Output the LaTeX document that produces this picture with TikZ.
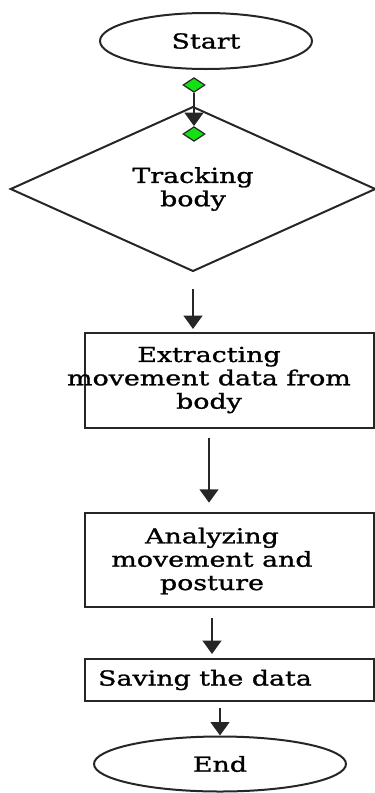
\documentclass[tikz,border=0pt]{standalone}
\usepackage{fontspec}
\setmainfont[FakeStretch=1.3,FakeBold=1.2]{DejaVu Serif}
\usetikzlibrary{shapes.geometric,arrows.meta}

\definecolor{dotgreen}{RGB}{20,225,20}
\tikzset{every node/.style={draw=black!85, line width=1.5pt, inner sep=0pt, align=center, font=\fontsize{15.5}{17.5}\selectfont}}

\begin{document}
\begin{tikzpicture}[x=0.75pt, y=-0.75pt, arr/.style={draw=black!85, line width=1.6pt, -{Triangle[width=14pt,length=10pt]}}, dot/.style={diamond, fill=dotgreen, line width=0.9pt, minimum width=16.5pt, minimum height=11pt}]
		\useasboundingbox (0,0) rectangle (375,793);
		
		\node[ellipse, minimum width=159pt, minimum height=42pt] (start) at (206,41) {Start};
		\node[dot] (dotA) at (194,85) {};
		\node[diamond, minimum width=274pt, minimum height=118.5pt] (track) at (193,189) {Tracking\\body};
		\node[dot] (dotB) at (194,134) {};
		\draw[arr] (dotA) -- (dotB);
		
		\node[rectangle, minimum width=216.75pt, minimum height=71.25pt] (extract) at (229.5,380.5) {};
		\node[draw=none] (extractText) at (209,380) {Extracting\\movement data from\\body};
		\node[rectangle, minimum width=216.75pt, minimum height=70.5pt] (analyze) at (229.5,560) {};
		\node[draw=none] (analyzeText) at (212,561) {Analyzing\\movement and\\posture};
		\node[rectangle, minimum width=216.75pt, minimum height=31.5pt] (save) at (229.5,680) {};
		\node[draw=none] (saveText) at (205,680) {Saving the data};
		\node[ellipse, minimum width=189pt, minimum height=41.25pt] (end) at (220,764) {End};
		
		\draw[arr, shorten <=12.75pt, shorten >=2.25pt] (track.south) -- (track.south |- extract.north);
		\draw[arr, shorten <=6.75pt, shorten >=7pt] (extractText |- extract.south) -- (extractText |- analyze.north);
		\draw[arr, shorten <=7.5pt, shorten >=3pt] (analyzeText |- analyze.south) -- (analyzeText |- save.north);
		\draw[arr, shorten <=4.5pt] (end.north |- save.south) -- (end.north);
	\end{tikzpicture}
\end{document}
